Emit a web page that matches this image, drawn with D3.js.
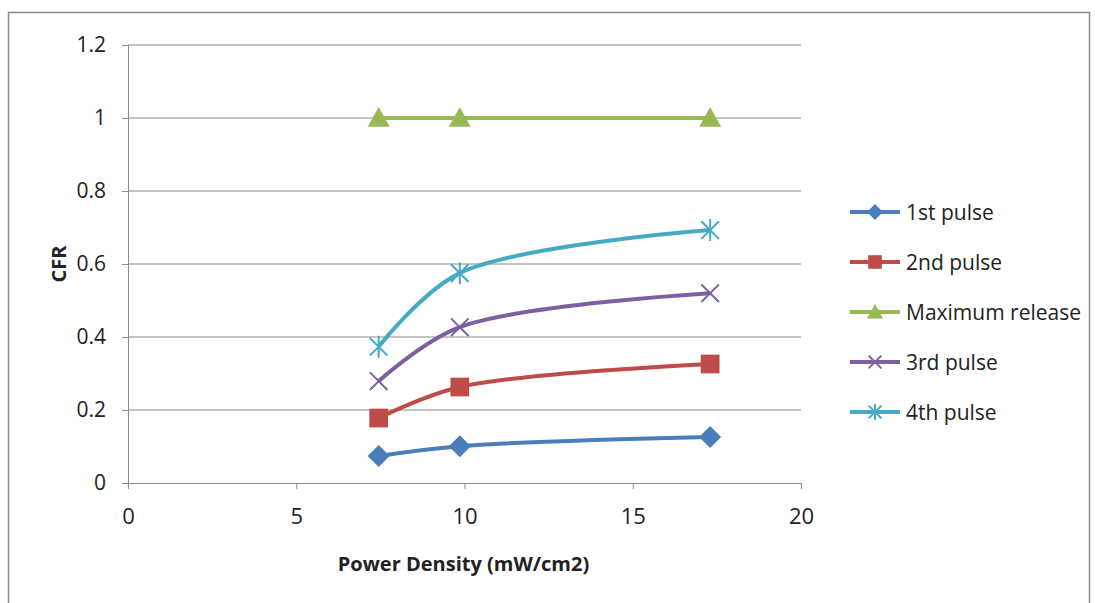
<!DOCTYPE html>
<html>
<head>
<meta charset="utf-8">
<script src="https://cdn.jsdelivr.net/npm/d3@7"></script>
<style>
  body { margin: 0; background: #fff; }
  text { font-family: "Open Sans", "Noto Sans", sans-serif; fill: #222; }
</style>
</head>
<body>
<script>
// power density values (x)
var powerDensity = [7.45, 9.86, 17.3];

var seriesNames = ["1st pulse", "2nd pulse", "Maximum release", "3rd pulse", "4th pulse"];
var pulse1 = [0.074, 0.101, 0.126];
var pulse2 = [0.178, 0.263, 0.326];
var maxRelease = [1, 1, 1];
var pulse3 = [0.279, 0.427, 0.520];
var pulse4 = [0.373, 0.575, 0.693];
var seriesColors = ["#4a7ebb", "#be4b48", "#98b954", "#7d60a0", "#46aac5"];
var seriesMarkers = ["diamond", "square", "triangle", "x", "star"];

var xTicks = [0, 5, 10, 15, 20];
var yTicks = [0, 0.2, 0.4, 0.6, 0.8, 1, 1.2];

var allSeries = [pulse1, pulse2, maxRelease, pulse3, pulse4];

var width = 1095, height = 603;
var margin = {top: 45, left: 128, right: 294, bottom: 120};

var svg = d3.select("body").append("svg")
    .attr("width", width)
    .attr("height", height);

// outer frame
svg.append("rect")
    .attr("x", 8.5).attr("y", 12.5)
    .attr("width", 1081).attr("height", 600)
    .attr("fill", "none")
    .attr("stroke", "#8c8c8c")
    .attr("stroke-width", 1.5);

var x = d3.scaleLinear().domain([0, 20]).range([margin.left, width - margin.right]);
var y = d3.scaleLinear().domain([0, 1.2]).range([height - margin.bottom, margin.top]);

// gridlines
svg.append("g").selectAll("line")
    .data(yTicks.slice(1))
    .enter().append("line")
    .attr("x1", x(0)).attr("x2", x(20))
    .attr("y1", function (d) { return y(d); })
    .attr("y2", function (d) { return y(d); })
    .attr("stroke", "#8a8a8a")
    .attr("stroke-width", 1);

// axes
var yAxis = svg.append("g")
    .attr("transform", "translate(" + x(0) + ",0)")
    .call(d3.axisLeft(y).tickValues(yTicks).tickSize(6).tickPadding(16)
        .tickFormat(function (d) { return d3.format("~g")(d); }));
var xAxis = svg.append("g")
    .attr("transform", "translate(0," + y(0) + ")")
    .call(d3.axisBottom(x).tickValues(xTicks).tickSize(6).tickPadding(19));

[xAxis, yAxis].forEach(function (a) {
    a.select(".domain").attr("stroke", "#8a8a8a");
    a.selectAll(".tick line").attr("stroke", "#8a8a8a");
    a.selectAll(".tick text")
        .style("font-size", "21px")
        .style("font-family", "'Open Sans', sans-serif")
        .attr("fill", "#333");
});
xAxis.selectAll(".tick text").style("font-size", "22px");

// axis titles
svg.append("text")
    .attr("x", x(10) - 1)
    .attr("y", 571)
    .attr("text-anchor", "middle")
    .style("font-size", "20px")
    .attr("font-weight", "bold")
    .text("Power Density (mW/cm2)");

svg.append("text")
    .attr("transform", "translate(66," + y(0.6) + ") rotate(-90)")
    .attr("text-anchor", "middle")
    .style("font-size", "20px")
    .attr("font-weight", "bold")
    .text("CFR");

function drawMarker(g, type, color, size) {
    var s = size;
    if (type === "diamond") {
        g.append("path").attr("d", "M0," + (-s) + "L" + s + ",0L0," + s + "L" + (-s) + ",0Z")
            .attr("fill", color);
    } else if (type === "square") {
        g.append("rect").attr("x", -s * 0.85).attr("y", -s * 0.85)
            .attr("width", s * 1.7).attr("height", s * 1.7).attr("fill", color);
    } else if (type === "triangle") {
        g.append("path").attr("d", "M0," + (-s) + "L" + s + "," + (s * 0.8) + "L" + (-s) + "," + (s * 0.8) + "Z")
            .attr("fill", color);
    } else if (type === "x") {
        var k = s * 0.8;
        g.append("path").attr("d", "M" + (-k) + "," + (-k) + "L" + k + "," + k + "M" + (-k) + "," + k + "L" + k + "," + (-k))
            .attr("stroke", color).attr("stroke-width", 2).attr("fill", "none");
    } else if (type === "star") {
        var k2 = s * 0.8;
        g.append("path").attr("d", "M" + (-k2) + "," + (-k2) + "L" + k2 + "," + k2 + "M" + (-k2) + "," + k2 + "L" + k2 + "," + (-k2) + "M0," + (-s) + "L0," + s)
            .attr("stroke", color).attr("stroke-width", 2).attr("fill", "none");
    }
}

var line = d3.line()
    .x(function (d, i) { return x(powerDensity[i]); })
    .y(function (d) { return y(d); })
    .curve(d3.curveCatmullRom.alpha(0.5));

allSeries.forEach(function (vals, si) {
    svg.append("path")
        .datum(vals)
        .attr("d", line)
        .attr("fill", "none")
        .attr("stroke", seriesColors[si])
        .attr("stroke-width", 4);
    vals.forEach(function (v, i) {
        var g = svg.append("g")
            .attr("transform", "translate(" + x(powerDensity[i]) + "," + y(v) + ")");
        drawMarker(g, seriesMarkers[si], seriesColors[si], 11);
    });
});

// legend
var legend = svg.append("g").attr("transform", "translate(850,212)");
seriesNames.forEach(function (name, i) {
    var g = legend.append("g").attr("transform", "translate(0," + (i * 50) + ")");
    g.append("line").attr("x1", 0).attr("x2", 50).attr("y1", 0).attr("y2", 0)
        .attr("stroke", seriesColors[i]).attr("stroke-width", 4);
    drawMarker(g.append("g").attr("transform", "translate(25,0)"), seriesMarkers[i], seriesColors[i], 8);
    g.append("text")
        .attr("x", 56).attr("y", 8)
        .style("font-size", "21px")
        .text(name);
});
</script>
</body>
</html>
